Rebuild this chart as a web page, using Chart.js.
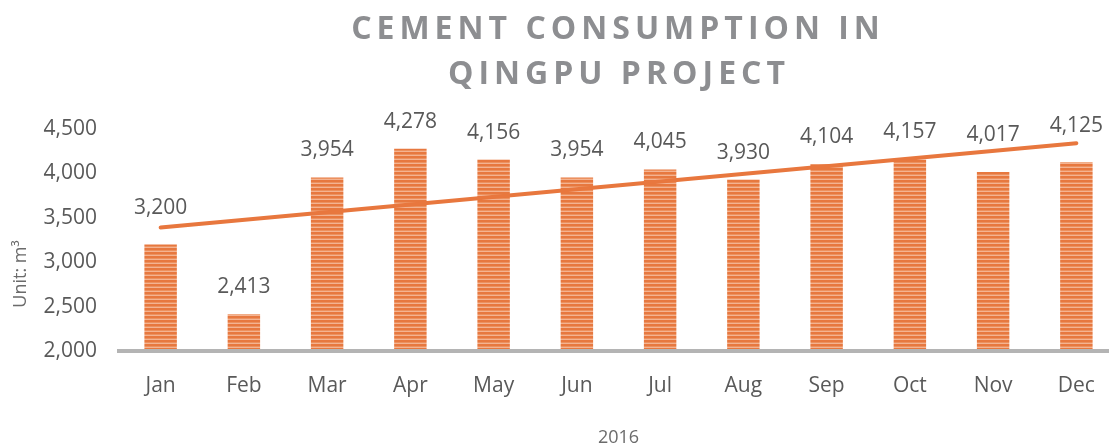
<!DOCTYPE html>
<html lang="en">
<head>
    <meta charset="UTF-8">
    <title>Cement Consumption in Qingpu Project</title>
    <script src="https://cdn.jsdelivr.net/npm/chart.js"></script>
</head>
<body style="margin:0;background:#fff;overflow:hidden;">
    <div style="width:1118px;height:447px;">
        <canvas id="chart" width="1118" height="447"></canvas>
    </div>

    <script>
        // data
        const months = ['Jan', 'Feb', 'Mar', 'Apr', 'May', 'Jun', 'Jul', 'Aug', 'Sep', 'Oct', 'Nov', 'Dec'];
        const consumption = [3200, 2413, 3954, 4278, 4156, 3954, 4045, 3930, 4104, 4157, 4017, 4125];
        // trend line: only the two end points, the rest is left open
        const trend = [3390, null, null, null, null, null, null, null, null, null, null, 4340];
        const yTicks = [2000, 2500, 3000, 3500, 4000, 4500];
        const titleLines = ['CEMENT CONSUMPTION IN', 'QINGPU PROJECT'];
        const yTitle = 'Unit: m³';
        const xTitle = '2016';

        const FONT = '"Open Sans", sans-serif';
        const textGray = '#595959';

        // striped fill for the bars
        const tile = document.createElement('canvas');
        tile.width = 1;
        tile.height = 4;
        const tctx = tile.getContext('2d');
        tctx.fillStyle = '#e7783f'; tctx.fillRect(0, 0, 1, 2);
        tctx.fillStyle = '#ec915f'; tctx.fillRect(0, 2, 1, 1);
        tctx.fillStyle = '#f4b391'; tctx.fillRect(0, 3, 1, 1);
        const stripes = tctx.createPattern(tile, 'repeat');

        // labels that sit higher to stay clear of the trend line
        const labelLift = { 0: 9, 10: 10, 11: 9 };

        const extras = {
            id: 'extras',
            afterDatasetsDraw(chart) {
                const ctx = chart.ctx;
                // value labels above the bars (bar dataset is index 1)
                ctx.save();
                ctx.font = '21px ' + FONT;
                ctx.fillStyle = textGray;
                ctx.textAlign = 'center';
                ctx.textBaseline = 'middle';
                chart.getDatasetMeta(1).data.forEach((bar, i) => {
                    const y = bar.y - 27 - (labelLift[i] || 0);
                    ctx.fillText(consumption[i].toLocaleString('en-US'), bar.x, y);
                });
                ctx.restore();
            },
            afterDraw(chart) {
                const ctx = chart.ctx;
                // title with wide letter spacing
                ctx.save();
                ctx.font = 'bold 32px ' + FONT;
                ctx.fillStyle = '#8d8e91';
                ctx.letterSpacing = '5px';
                ctx.textAlign = 'center';
                ctx.textBaseline = 'middle';
                ctx.fillText(titleLines[0], 618, 30);
                ctx.fillText(titleLines[1], 619, 75);
                ctx.restore();

                // rotated y axis title
                ctx.save();
                ctx.font = '18px ' + FONT;
                ctx.fillStyle = '#6b6b6b';
                ctx.translate(21, 274);
                ctx.rotate(-Math.PI / 2);
                ctx.textAlign = 'center';
                ctx.textBaseline = 'middle';
                ctx.fillText(yTitle, 0, 0);
                ctx.restore();
            }
        };

        const ctx = document.getElementById('chart').getContext('2d');
        new Chart(ctx, {
            data: {
                labels: months,
                datasets: [
                    {
                        type: 'line',
                        data: trend,
                        borderColor: '#e8773e',
                        borderWidth: 4,
                        borderCapStyle: 'round',
                        pointRadius: 0,
                        spanGaps: true,
                        fill: false,
                        order: 0
                    },
                    {
                        type: 'bar',
                        data: consumption,
                        backgroundColor: stripes,
                        borderWidth: 0,
                        categoryPercentage: 1,
                        barPercentage: 0.39,
                        order: 1
                    }
                ]
            },
            options: {
                responsive: false,
                animation: false,
                layout: { padding: { top: 129, right: 0, bottom: 0, left: 0 } },
                plugins: {
                    legend: { display: false },
                    tooltip: { enabled: false }
                },
                scales: {
                    x: {
                        grid: { display: false, drawTicks: false },
                        border: { display: true, color: '#b4b4b4', width: 4, z: 1 },
                        ticks: { color: textGray, font: { family: FONT, size: 21 }, padding: 22 },
                        title: {
                            display: true,
                            text: xTitle,
                            color: '#6b6b6b',
                            font: { family: FONT, size: 18, lineHeight: 1 },
                            padding: { top: 0, bottom: 0 }
                        },
                        afterFit(scale) { scale.height = 96; }
                    },
                    y: {
                        min: 2000,
                        max: 4500,
                        grid: { display: false, drawTicks: false },
                        border: { display: false },
                        afterBuildTicks(scale) { scale.ticks = yTicks.map(v => ({ value: v })); },
                        ticks: {
                            color: textGray,
                            font: { family: FONT, size: 21 },
                            padding: 22,
                            callback: v => v.toLocaleString('en-US')
                        },
                        afterFit(scale) { scale.width = 119; }
                    }
                }
            },
            plugins: [extras]
        });
    </script>
</body>
</html>
